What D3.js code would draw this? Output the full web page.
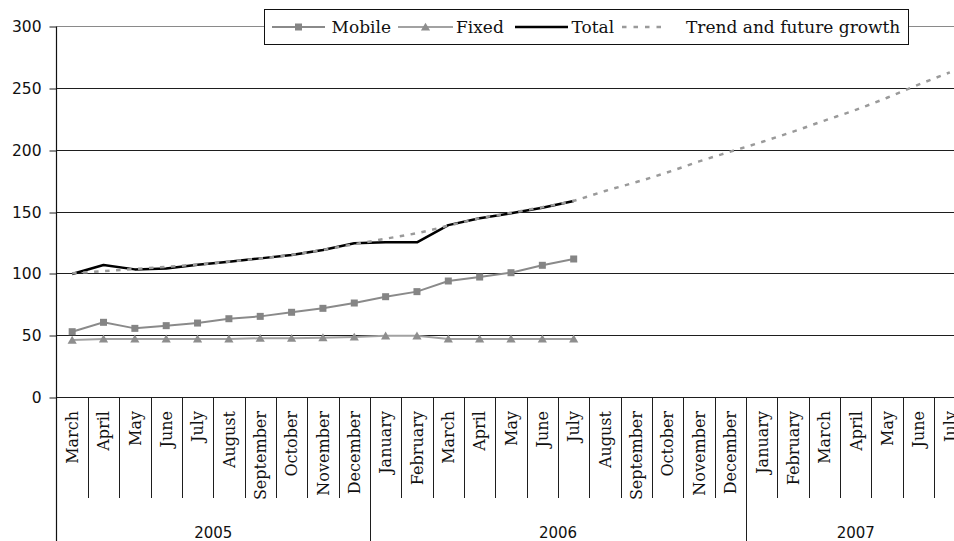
<!DOCTYPE html>
<html>
<head>
<meta charset="utf-8">
<script src="https://cdn.jsdelivr.net/npm/d3@7"></script>
<style>
  html, body { margin: 0; padding: 0; background: #fff; overflow: hidden; }
  svg { display: block; }
</style>
</head>
<body>
<svg id="chart" width="954" height="541"></svg>
<script>
// Category axis: one band per month, grouped by year
const months = ["March", "April", "May", "June", "July", "August", "September", "October", "November", "December",
  "January", "February", "March", "April", "May", "June", "July", "August", "September", "October", "November", "December",
  "January", "February", "March", "April", "May", "June", "July"];
const years = ["2005", "2006", "2007"];
const monthsPerYear = [10, 12, 7];
const yTicks = [0, 50, 100, 150, 200, 250, 300];

// Series values (March 2005 onward)
const mobile = [52.8, 60.4, 55.5, 57.7, 59.8, 63.3, 65.2, 68.5, 71.7, 76, 81.1, 85.2, 93.8, 97, 100.5, 106.5, 111.6];
const fixed = [46, 47, 47, 47, 47, 47, 47.5, 47.5, 48, 48.5, 49.5, 49.5, 47, 47, 47, 47, 47];
const total = [99.5, 106.7, 103.2, 104, 107, 109.4, 112.1, 114.8, 118.9, 124.3, 125.1, 125.1, 139, 144.5, 148.5, 153, 158.5];
const trend = [100, 101.8, 103.5, 105.2, 107.2, 109.5, 112, 115, 119, 123.5, 128, 132.5, 138.5, 144.5, 149, 153.5, 158.7,
  166.6, 173.8, 181.7, 190.5, 198.4, 206.2, 214.6, 223.5, 232.2, 242, 252.6, 262.5];
const seriesNames = ["Mobile", "Fixed", "Total", "Trend and future growth"];

const svg = d3.select("#chart");
const serif = "'DejaVu Serif', serif";
const sans = "'DejaVu Sans', sans-serif";

const x = d3.scaleBand().domain(d3.range(months.length)).range([56.5, 965.5]).padding(0);
const y = d3.scaleLinear().domain([0, 300]).range([397, 26]);
const cx = i => x(i) + x.bandwidth() / 2;
const crisp = v => Math.round(v) + 0.5;

// Horizontal gridlines
svg.append("g").selectAll("line").data(yTicks).join("line")
  .attr("x1", 56.5).attr("x2", 970)
  .attr("y1", d => crisp(y(d))).attr("y2", d => crisp(y(d)))
  .attr("stroke", d => d === 300 ? "#8a8a8a" : "#1e1e1e")
  .attr("stroke-width", 1);

// Value axis
const yAxis = svg.append("g")
  .attr("transform", "translate(56.5,0)")
  .call(d3.axisLeft(y).tickValues(yTicks).tickSize(7).tickPadding(8).tickFormat(d3.format("d")));
yAxis.select(".domain").remove();
yAxis.selectAll(".tick line").attr("stroke", "#1e1e1e").attr("transform", d => `translate(0,${crisp(y(d)) - y(d)})`);
yAxis.selectAll(".tick text")
  .attr("font-family", sans).attr("font-size", "15.5px").attr("fill", "#111")
  .attr("dy", "0.36em");

svg.append("line")
  .attr("x1", 56.5).attr("x2", 56.5).attr("y1", crisp(y(300))).attr("y2", 541)
  .attr("stroke", "#111").attr("stroke-width", 1.2);

// Category axis: month separators and year separators
const yearStarts = d3.cumsum([0].concat(monthsPerYear.slice(0, -1)));
const yearBounds = new Set(yearStarts.slice(1));
svg.append("g").selectAll("line").data(d3.range(1, months.length)).join("line")
  .attr("x1", i => crisp(x(i))).attr("x2", i => crisp(x(i)))
  .attr("y1", crisp(y(0))).attr("y2", i => yearBounds.has(i) ? 541 : 498)
  .attr("stroke", "#1e1e1e").attr("stroke-width", 1);

svg.append("g").selectAll("text").data(months).join("text")
  .attr("transform", (d, i) => `translate(${cx(i)},411) rotate(-90)`)
  .attr("text-anchor", "end")
  .attr("dy", "0.36em")
  .attr("font-family", serif).attr("font-size", "16px").attr("fill", "#111")
  .text(d => d);

svg.append("g").selectAll("text").data(years).join("text")
  .attr("x", (d, k) => (x(yearStarts[k]) + x(yearStarts[k] + monthsPerYear[k] - 1) + x.bandwidth()) / 2)
  .attr("y", 532.5)
  .attr("dy", "0.36em")
  .attr("text-anchor", "middle")
  .attr("font-family", sans).attr("font-size", "15px").attr("fill", "#111")
  .text(d => d);

// Series lines
const straight = d3.line().x((d, i) => cx(i)).y(d => y(d));
const smooth = d3.line().x((d, i) => cx(i)).y(d => y(d)).curve(d3.curveMonotoneX);

const mobileColor = "#8a8a8a";
const fixedColor = "#a2a2a2";
const trendColor = "#9a9a9a";

const triangle = "M0,-4.3L4.6,3.6L-4.6,3.6Z";

svg.append("path").datum(mobile).attr("d", straight)
  .attr("fill", "none").attr("stroke", mobileColor).attr("stroke-width", 2);
svg.append("g").selectAll("rect").data(mobile).join("rect")
  .attr("x", (d, i) => cx(i) - 3.5).attr("y", d => y(d) - 3.5)
  .attr("width", 7).attr("height", 7).attr("fill", "#858585");

svg.append("path").datum(fixed).attr("d", straight)
  .attr("fill", "none").attr("stroke", fixedColor).attr("stroke-width", 2);
svg.append("g").selectAll("path").data(fixed).join("path")
  .attr("d", triangle)
  .attr("transform", (d, i) => `translate(${cx(i)},${y(d)})`)
  .attr("fill", "#8e8e8e");

svg.append("path").datum(total).attr("d", straight)
  .attr("fill", "none").attr("stroke", "#000").attr("stroke-width", 2.5)
  .attr("stroke-linejoin", "round");

svg.append("path").datum(trend).attr("d", smooth)
  .attr("fill", "none").attr("stroke", trendColor).attr("stroke-width", 2.5)
  .attr("stroke-dasharray", "4.5,6.5");

// Legend
const legend = svg.append("g");
legend.append("rect")
  .attr("x", 264.5).attr("y", 9.5).attr("width", 644).attr("height", 35)
  .attr("fill", "#fff").attr("stroke", "#111").attr("stroke-width", 1);

const legendItems = [
  { name: seriesNames[0], x0: 272, x1: 325, tx: 331.5, color: mobileColor, marker: "square" },
  { name: seriesNames[1], x0: 398, x1: 453, tx: 456, color: fixedColor, marker: "triangle" },
  { name: seriesNames[2], x0: 515, x1: 568, tx: 571.5, color: "#000", marker: null },
  { name: seriesNames[3], x0: 622, x1: 664, tx: 686, color: trendColor, marker: null, dash: "4.5,7" }
];
const ly = 27;
legendItems.forEach(it => {
  legend.append("line")
    .attr("x1", it.x0).attr("x2", it.x1).attr("y1", ly).attr("y2", ly)
    .attr("stroke", it.color).attr("stroke-width", it.name === "Total" ? 2.5 : (it.dash ? 2.5 : 2))
    .attr("stroke-dasharray", it.dash || null);
  const mx = (it.x0 + it.x1) / 2;
  if (it.marker === "square") {
    legend.append("rect").attr("x", mx - 3.5).attr("y", ly - 3.5).attr("width", 7).attr("height", 7).attr("fill", "#858585");
  } else if (it.marker === "triangle") {
    legend.append("path").attr("d", triangle).attr("transform", `translate(${mx},${ly})`).attr("fill", "#8e8e8e");
  }
  legend.append("text")
    .attr("x", it.tx).attr("y", 33.3)
    .attr("font-family", serif).attr("font-size", "17px").attr("fill", "#111")
    .text(it.name);
});
</script>
</body>
</html>
